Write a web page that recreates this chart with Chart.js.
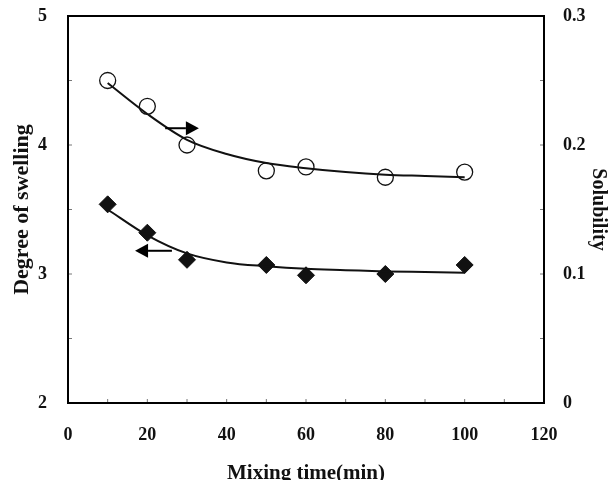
<!DOCTYPE html>
<html lang="en">
<head>
  <meta charset="UTF-8" />
  <title>Degree of swelling and solubility</title>
  <style>
    * { margin: 0; padding: 0; box-sizing: border-box; }
    body { background: #fff; }
    .wrap { width: 613px; height: 480px; position: relative; }
  </style>
</head>
<body>
  <div class="wrap"><canvas id="chart"></canvas></div>

  <script src="https://cdn.jsdelivr.net/npm/chart.js"></script>
  <script>
    // measured points
    const mixTime = [10, 20, 30, 50, 60, 80, 100];
    const swelling = [3.54, 3.32, 3.11, 3.07, 2.99, 3.0, 3.07];
    const solubility = [0.250, 0.230, 0.200, 0.180, 0.183, 0.175, 0.179];

    // fitted curves
    const fitTime = [10, 20, 30, 40, 50, 60, 70, 80, 90, 100];
    const swellingFit = [3.50, 3.30, 3.16, 3.09, 3.06, 3.04, 3.03, 3.02, 3.015, 3.01];
    const solubilityFit = [0.248, 0.224, 0.204, 0.193, 0.186, 0.182, 0.179, 0.177, 0.176, 0.175];

    // arrows pointing to the axis each series belongs to: [xFrom, xTo, y, axis]
    const arrows = [
      [24.5, 33, 4.13, 'y'],
      [26.2, 16.9, 3.18, 'y']
    ];

    const font = 'Liberation Serif';
    const pts = (xs, ys) => xs.map((x, i) => ({ x: x, y: ys[i] }));

    const framePlugin = {
      id: 'frame',
      afterDraw(chart) {
        const { ctx, chartArea: a, scales } = chart;
        ctx.save();
        // inward minor ticks
        ctx.strokeStyle = '#777';
        ctx.lineWidth = 1;
        ctx.beginPath();
        for (let v = 2.5; v < 5; v += 0.5) {
          const y = scales.y.getPixelForValue(v);
          ctx.moveTo(a.left, y); ctx.lineTo(a.left + 4, y);
        }
        for (let v = 0.05; v < 0.3; v += 0.05) {
          const y = scales.y2.getPixelForValue(v);
          ctx.moveTo(a.right, y); ctx.lineTo(a.right - 4, y);
        }
        for (let v = 10; v < 120; v += 10) {
          const x = scales.x.getPixelForValue(v);
          ctx.moveTo(x, a.bottom); ctx.lineTo(x, a.bottom - 4);
        }
        ctx.stroke();
        // box
        ctx.strokeStyle = '#000';
        ctx.lineWidth = 2;
        ctx.strokeRect(a.left, a.top, a.right - a.left, a.bottom - a.top);
        // arrows
        ctx.fillStyle = '#000';
        arrows.forEach(([x0, x1, v, axis]) => {
          const px0 = scales.x.getPixelForValue(x0);
          const px1 = scales.x.getPixelForValue(x1);
          const py = scales[axis].getPixelForValue(v);
          const dir = px1 > px0 ? 1 : -1;
          const head = 13;
          ctx.lineWidth = 2;
          ctx.beginPath();
          ctx.moveTo(px0, py); ctx.lineTo(px1 - dir * head, py);
          ctx.stroke();
          ctx.beginPath();
          ctx.moveTo(px1, py);
          ctx.lineTo(px1 - dir * head, py - 7);
          ctx.lineTo(px1 - dir * head, py + 7);
          ctx.closePath();
          ctx.fill();
        });
        ctx.restore();
      }
    };

    const fmt = v => (Math.round(v * 100) / 100).toString();

    new Chart(document.getElementById('chart'), {
      type: 'scatter',
      data: {
        datasets: [
          {
            label: 'Solubility fit',
            type: 'line',
            data: pts(fitTime, solubilityFit),
            yAxisID: 'y2',
            borderColor: '#111',
            borderWidth: 2,
            pointRadius: 0,
            cubicInterpolationMode: 'monotone',
            fill: false
          },
          {
            label: 'Swelling fit',
            type: 'line',
            data: pts(fitTime, swellingFit),
            yAxisID: 'y',
            borderColor: '#111',
            borderWidth: 2,
            pointRadius: 0,
            cubicInterpolationMode: 'monotone',
            fill: false
          },
          {
            label: 'Solubility',
            data: pts(mixTime, solubility),
            yAxisID: 'y2',
            pointStyle: 'circle',
            pointRadius: 8,
            backgroundColor: '#fff',
            borderColor: '#111',
            borderWidth: 1.3
          },
          {
            label: 'Degree of swelling',
            data: pts(mixTime, swelling),
            yAxisID: 'y',
            pointStyle: 'rectRot',
            pointRadius: 8.5,
            backgroundColor: '#111',
            borderColor: '#111',
            borderWidth: 1
          }
        ]
      },
      options: {
        responsive: true,
        maintainAspectRatio: false,
        animation: false,
        layout: { padding: { top: 16, left: 0, right: 0, bottom: 0 } },
        plugins: { legend: { display: false }, tooltip: { enabled: false } },
        scales: {
          x: {
            type: 'linear',
            min: 0, max: 120,
            grid: { display: false, drawTicks: false },
            border: { display: false },
            ticks: { stepSize: 20, padding: 22, color: '#111', font: { family: font, size: 18, weight: 'bold' } },
            title: { display: true, text: 'Mixing time(min)', color: '#111', padding: { top: 0, bottom: -6 }, font: { family: font, size: 21, weight: 'bold' } },
            afterFit: s => { s.height = 77; }
          },
          y: {
            position: 'left',
            min: 2, max: 5,
            grid: { display: false, drawTicks: false },
            border: { display: false },
            ticks: { stepSize: 1, padding: 21, color: '#111', callback: fmt, font: { family: font, size: 18, weight: 'bold' } },
            title: { display: true, text: 'Degree of swelling', color: '#111', padding: { top: 9, bottom: 0 }, font: { family: font, size: 22, weight: 'bold' } },
            afterFit: s => { s.width = 68; s.paddingTop = 0; s.paddingBottom = 0; }
          },
          y2: {
            position: 'right',
            min: 0, max: 0.3,
            grid: { display: false, drawTicks: false },
            border: { display: false },
            ticks: { stepSize: 0.1, padding: 19, color: '#111', callback: fmt, font: { family: font, size: 18, weight: 'bold' } },
            title: { display: true, text: 'Solubility', color: '#111', padding: { top: 3, bottom: 0 }, font: { family: font, size: 20, weight: 'bold' } },
            afterFit: s => { s.width = 69; s.paddingTop = 0; s.paddingBottom = 0; }
          }
        }
      },
      plugins: [framePlugin]
    });
  </script>
</body>
</html>
